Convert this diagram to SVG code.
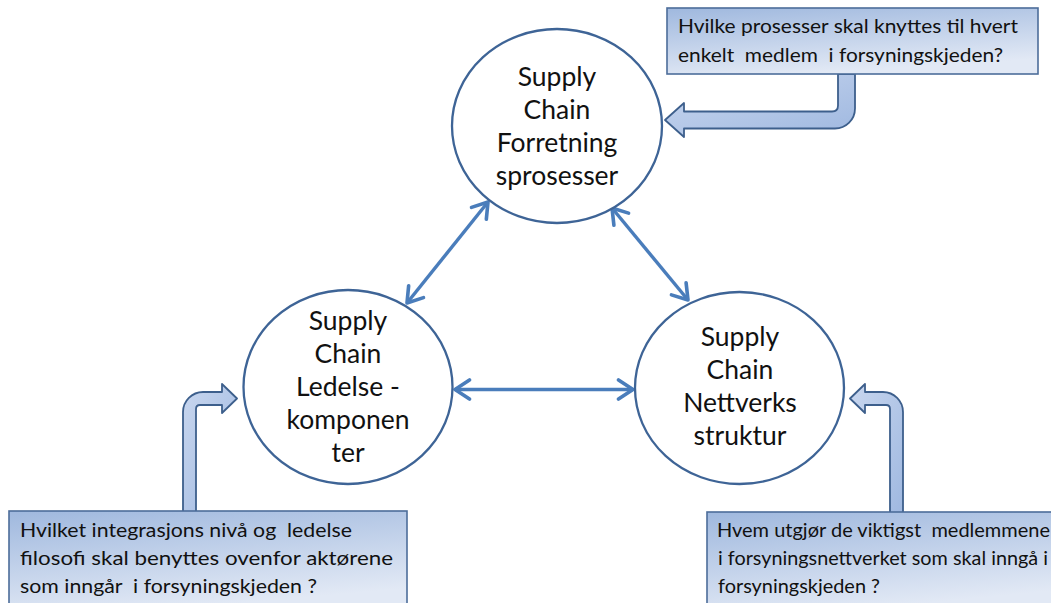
<svg xmlns="http://www.w3.org/2000/svg" width="1051" height="603" viewBox="0 0 1051 603">
<style>
.node{fill:#ffffff;stroke:#3e6496;stroke-width:2.3}
.lbl{font-family:Lato,"Liberation Sans",sans-serif;font-size:26.5px;fill:#111;text-anchor:middle}
.box{fill:url(#boxg);stroke:#4d6d9a;stroke-width:1.6}
.btxt{font-family:Lato,"Liberation Sans",sans-serif;font-size:18.5px;fill:#111;white-space:pre}
.bent{fill:url(#arrg);stroke:#3d5f8c;stroke-width:1.8;stroke-linejoin:round}
.conn{stroke:#4a7dbb;stroke-width:3.4;fill:none;marker-start:url(#chev);marker-end:url(#chev)}
</style>
<defs>
<linearGradient id="boxg" x1="0" y1="0" x2="0.35" y2="1">
<stop offset="0" stop-color="#9fb8de"/>
<stop offset="1" stop-color="#e2e9f5"/>
</linearGradient>
<linearGradient id="arrg" x1="0" y1="0" x2="1" y2="1">
<stop offset="0" stop-color="#c9d7ef"/>
<stop offset="1" stop-color="#9fb8e0"/>
</linearGradient>
<marker id="chev" viewBox="0 0 20 24" refX="17" refY="12" markerWidth="20" markerHeight="24" markerUnits="userSpaceOnUse" orient="auto-start-reverse">
<path d="M2.5,2.5 L17,12 L2.5,21.5" fill="none" stroke="#4a7dbb" stroke-width="3.6" stroke-linecap="round" stroke-linejoin="round"/>
</marker>
</defs>

<g id="connectors">
<line class="conn" x1="407" y1="303" x2="488" y2="202"/>
<line class="conn" x1="612" y1="208" x2="688" y2="300"/>
<line class="conn" x1="455" y1="389.5" x2="633" y2="389.5"/>
</g>

<g id="arrow-top">
<path class="bent" d="M838 74 L855 74 L855 108.5 A20 20 0 0 1 835 128.5 L684 128.5 L684 137 L665 120 L684 103 L684 111.5 L832 111.5 Q838 111.5 838 105.5 Z"/>
</g>
<g id="arrow-left">
<path class="bent" d="M183 512 L183 412 A20 20 0 0 1 203 392 L222 392 L222 384 L237 398.5 L222 413 L222 405 L200 405 Q196 405 196 409 L196 512 Z"/>
</g>
<g id="arrow-right">
<path class="bent" d="M903 513 L903 412 A20 20 0 0 0 883 392 L865 392 L865 384 L850 398.5 L865 413 L865 405 L886 405 Q890 405 890 409 L890 513 Z"/>
</g>

<g id="node-top">
<ellipse class="node" cx="557" cy="126" rx="105" ry="97"/>
<text class="lbl" x="557" y="86">Supply</text>
<text class="lbl" x="557" y="119">Chain</text>
<text class="lbl" x="557" y="152">Forretning</text>
<text class="lbl" x="557" y="185">sprosesser</text>
</g>

<g id="node-left">
<ellipse class="node" cx="348" cy="387" rx="104.5" ry="97"/>
<text class="lbl" x="348" y="330">Supply</text>
<text class="lbl" x="348" y="363">Chain</text>
<text class="lbl" x="348" y="396">Ledelse -</text>
<text class="lbl" x="348" y="429">komponen</text>
<text class="lbl" x="348" y="462">ter</text>
</g>

<g id="node-right">
<ellipse class="node" cx="739.5" cy="388" rx="104.5" ry="96"/>
<text class="lbl" x="740" y="346">Supply</text>
<text class="lbl" x="740" y="379">Chain</text>
<text class="lbl" x="740" y="412">Nettverks</text>
<text class="lbl" x="740" y="445">struktur</text>
</g>

<g id="box-top">
<rect class="box" x="667" y="8" width="371" height="66"/>
<text class="btxt" x="678" y="33" textLength="340" lengthAdjust="spacingAndGlyphs">Hvilke prosesser skal knyttes til hvert</text>
<text class="btxt" x="678" y="62" textLength="325" lengthAdjust="spacingAndGlyphs">enkelt  medlem  i forsyningskjeden?</text>
</g>

<g id="box-left">
<rect class="box" x="9" y="511" width="398" height="100"/>
<text class="btxt" x="20" y="537" textLength="332" lengthAdjust="spacingAndGlyphs">Hvilket integrasjons nivå og  ledelse</text>
<text class="btxt" x="20" y="565" textLength="373" lengthAdjust="spacingAndGlyphs">filosofi skal benyttes ovenfor aktørene</text>
<text class="btxt" x="20" y="593" textLength="297" lengthAdjust="spacingAndGlyphs">som inngår  i forsyningskjeden ?</text>
</g>

<g id="box-right">
<rect class="box" x="707" y="512" width="360" height="100"/>
<text class="btxt" x="717" y="537" textLength="333" lengthAdjust="spacingAndGlyphs">Hvem utgjør de viktigst  medlemmene</text>
<text class="btxt" x="718" y="565" textLength="330" lengthAdjust="spacingAndGlyphs">i forsyningsnettverket som skal inngå i</text>
<text class="btxt" x="718" y="593" textLength="162" lengthAdjust="spacingAndGlyphs">forsyningskjeden ?</text>
</g>
</svg>
